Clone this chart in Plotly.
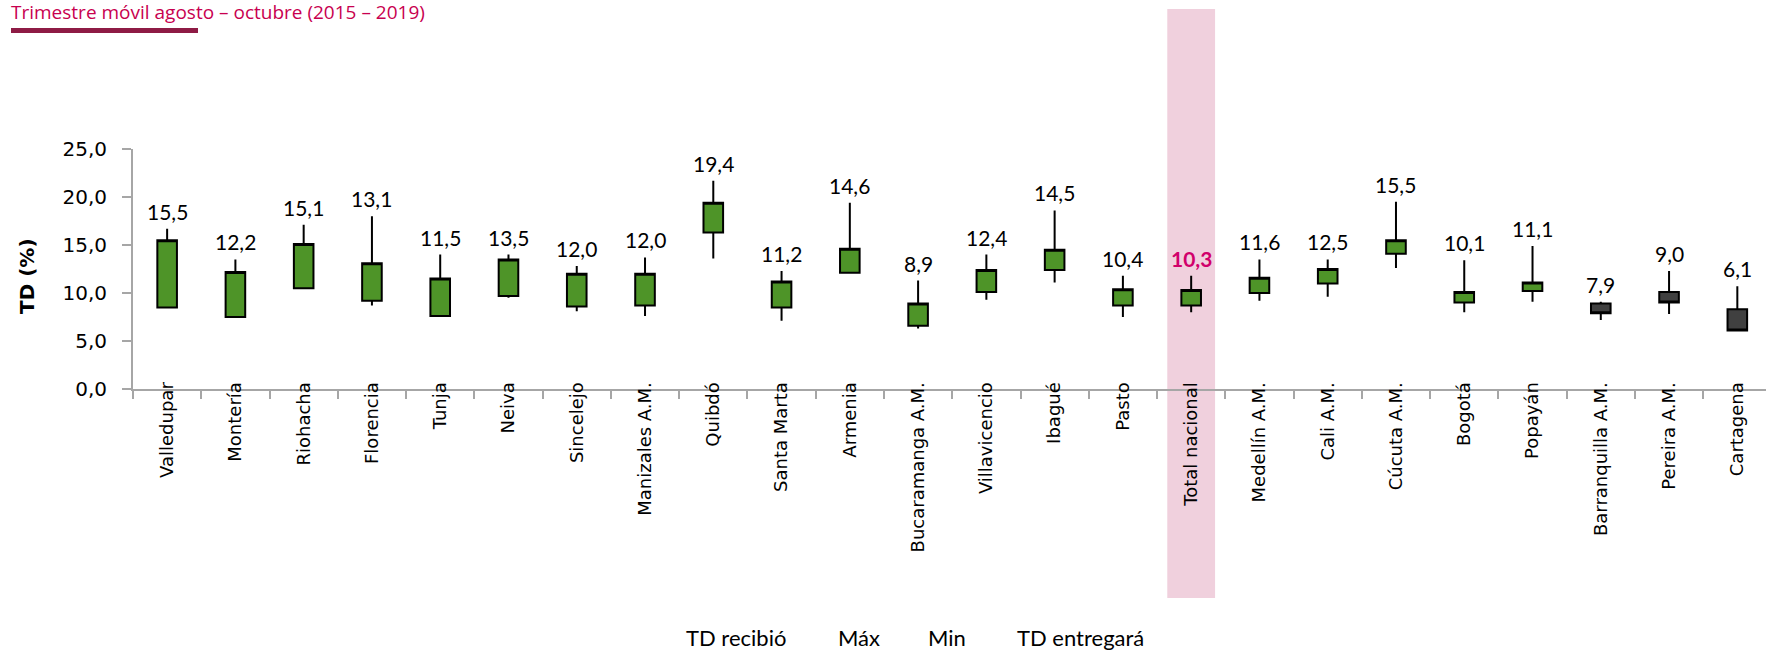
import plotly.graph_objects as go

CIUDADES = [
    "Valledupar", "Montería", "Riohacha", "Florencia", "Tunja", "Neiva",
    "Sincelejo", "Manizales A.M.", "Quibdó", "Santa Marta", "Armenia",
    "Bucaramanga A.M.", "Villavicencio", "Ibagué", "Pasto", "Total nacional",
    "Medellín A.M.", "Cali A.M.", "Cúcuta A.M.", "Bogotá", "Popayán",
    "Barranquilla A.M.", "Pereira A.M.", "Cartagena",
]
TD_RECIBIO   = [8.5, 7.5, 10.5, 9.2, 7.6, 9.7, 8.6, 8.7, 16.3, 8.5, 12.1, 6.6,
                10.1, 12.4, 8.7, 8.7, 10.0, 11.0, 14.1, 9.0, 10.2, 8.9, 10.1, 8.3]
TD_MAX       = [16.7, 13.5, 17.1, 18.0, 14.0, 14.0, 12.8, 13.7, 21.7, 12.3, 19.4, 11.3,
                14.0, 18.6, 11.8, 11.8, 13.5, 13.5, 19.5, 13.4, 14.9, 9.1, 12.3, 10.7]
TD_MIN       = [8.5, 7.5, 10.4, 8.7, 7.6, 9.5, 8.1, 7.6, 13.6, 7.1, 12.1, 6.3,
                9.3, 11.1, 7.5, 8.0, 9.2, 9.6, 12.6, 8.0, 9.1, 7.2, 7.8, 6.1]
TD_ENTREGARA = [15.5, 12.2, 15.1, 13.1, 11.5, 13.5, 12.0, 12.0, 19.4, 11.2, 14.6, 8.9,
                12.4, 14.5, 10.4, 10.3, 11.6, 12.5, 15.5, 10.1, 11.1, 7.9, 9.0, 6.1]
LEYENDA = ["TD recibió", "Máx", "Min", "TD entregará"]
Y_TICKS = [0, 5, 10, 15, 20, 25]

W, H = 1766, 652
L, R, T, B = 133, 0, 149, 263
PW, PH = W - L - R, H - T - B

GREEN = "#4E9428"
DARK = "#404040"
MAGENTA = "#D1006B"


def px_x(p):
    return (p - L) / PW


def px_y(p):
    return 1 + (T - p) / PH


fig = go.Figure()
fig.add_trace(go.Candlestick(
    x=CIUDADES,
    open=TD_RECIBIO,
    high=TD_MAX,
    low=TD_MIN,
    close=TD_ENTREGARA,
    increasing=dict(fillcolor=GREEN, line=dict(color="black", width=2)),
    decreasing=dict(fillcolor=DARK, line=dict(color="black", width=2)),
    whiskerwidth=0,
    showlegend=False,
    hoverinfo="skip",
))

# value labels above the max whisker
for c, hi, v in zip(CIUDADES, TD_MAX, TD_ENTREGARA):
    total = c == "Total nacional"
    txt = f"{v:.1f}".replace(".", ",")
    fig.add_annotation(
        x=c, y=hi, xref="x", yref="y",
        text=f"<b>{txt}</b>" if total else txt,
        showarrow=False, yanchor="bottom", yshift=3,
        font=dict(family="Lato, sans-serif", size=21, color=MAGENTA if total else "black"),
    )

# highlight band for Total nacional
idx = CIUDADES.index("Total nacional")
fig.add_shape(type="rect", xref="x", yref="paper",
              x0=idx - 0.35, x1=idx + 0.35, y0=px_y(598), y1=px_y(9),
              fillcolor="#F0D0DD", line=dict(width=0), layer="below")

# title and underline
fig.add_annotation(
    xref="paper", yref="paper", x=px_x(9), y=px_y(27),
    xanchor="left", yanchor="bottom", showarrow=False,
    text="Trimestre móvil agosto – octubre (2015 – 2019)",
    font=dict(family="Open Sans, sans-serif", size=19, color="#C8004F"),
)
fig.add_shape(type="rect", xref="paper", yref="paper",
              x0=px_x(11), x1=px_x(198), y0=px_y(33), y1=px_y(28),
              fillcolor="#8E1B45", line=dict(width=0))

# y-axis title
fig.add_annotation(
    xref="paper", yref="paper", x=px_x(27), y=px_y(276),
    xanchor="center", yanchor="middle",
    text="<b>TD (%)</b>", textangle=-90, showarrow=False,
    font=dict(family="DejaVu Sans, sans-serif", size=20, color="black"),
)

# text-only legend
for lbl, xp in zip(LEYENDA, [684, 836, 926, 1015]):
    fig.add_annotation(
        xref="paper", yref="paper", x=px_x(xp), y=px_y(637),
        xanchor="left", yanchor="middle", showarrow=False, text=lbl,
        font=dict(family="Lato, sans-serif", size=22, color="black"),
    )

fig.update_layout(
    width=W, height=H,
    margin=dict(l=L, r=R, t=T, b=B, pad=0),
    plot_bgcolor="white", paper_bgcolor="white",
    separators=",.",
    boxgap=0.59,
    showlegend=False,
    font=dict(family="DejaVu Sans, sans-serif", color="black"),
)
fig.update_xaxes(
    type="category", range=[-0.5, len(CIUDADES) - 0.58],
    rangeslider_visible=False,
    tickangle=-90, tickson="boundaries", ticks="outside", ticklen=8,
    tickcolor="#A6A6A6", tickwidth=2,
    showline=True, linecolor="#A6A6A6", linewidth=2,
    showgrid=False, zeroline=False,
    ticklabelstandoff=-16,
    tickfont=dict(family="DejaVu Sans, sans-serif", size=18, color="black"),
)
fig.update_yaxes(
    range=[0, 25], tickvals=Y_TICKS, tickformat=".1f",
    ticks="outside", ticklen=9, tickcolor="#A6A6A6", tickwidth=2,
    showline=True, linecolor="#A6A6A6", linewidth=2,
    showgrid=False, zeroline=False,
    ticklabelstandoff=11,
    tickfont=dict(family="DejaVu Sans, sans-serif", size=20, color="black"),
)

fig.write_html(
    "out.html",
    config={"displayModeBar": False},
    post_script="document.body.style.margin='0';",
)
